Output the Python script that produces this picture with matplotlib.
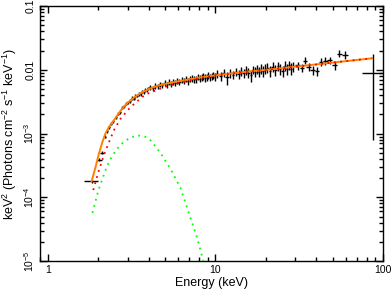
import numpy as np
import matplotlib
matplotlib.use('Agg')
import matplotlib.pyplot as plt
from matplotlib.ticker import FixedLocator, FixedFormatter, NullFormatter, LogLocator

plt.rcParams['font.family'] = ['Liberation Sans', 'DejaVu Sans']
plt.rcParams['mathtext.fontset'] = 'custom'
plt.rcParams['mathtext.rm'] = 'Liberation Sans'
plt.rcParams['mathtext.it'] = 'Liberation Sans:italic'
plt.rcParams['mathtext.bf'] = 'Liberation Sans:bold'

# ---- data points (keV, keV^2 photons cm^-2 s^-1 keV^-1) ----
energy = [1.83, 2.03, 2.10, 2.20, 2.26, 2.33, 2.40, 2.47, 2.55, 2.63, 2.70, 2.78, 2.86, 2.94,
          3.02, 3.10, 3.18, 3.26, 3.34, 3.42, 3.50, 3.58, 3.66, 3.74, 3.82, 3.90, 3.98,
          4.08, 4.23, 4.38, 4.53, 4.68, 4.83, 4.98, 5.13, 5.28, 5.43, 5.58, 5.73, 5.88,
          6.1, 6.3, 6.5, 6.7, 6.9, 7.1, 7.3, 7.5, 7.7, 7.9, 8.1, 8.3, 8.5, 8.7, 8.9, 9.1,
          9.3, 9.5, 9.7, 9.9,
          10.25, 10.75, 11.25, 11.75, 12.25, 12.75, 13.25, 13.75, 14.25, 14.75, 15.25,
          15.75, 16.25, 16.75, 17.25, 17.75, 18.25, 18.75, 19.25, 19.75,
          20.4, 21.2, 22.0, 22.8, 23.6, 24.4, 25.2, 26.0, 26.8, 27.6, 28.4, 29.2,
          31.0, 33.0, 34.4, 36.0, 38.0, 40.4, 42.8, 45.3, 48.0, 51.5, 55.0, 59.5, 87.0]
energy_err = [0.18, 0.07, 0.06, 0.04, 0.03, 0.03, 0.03, 0.03, 0.04, 0.04, 0.04, 0.04, 0.04, 0.04,
              0.04, 0.04, 0.04, 0.04, 0.04, 0.04, 0.04, 0.04, 0.04, 0.04, 0.04, 0.04, 0.04,
              0.075, 0.075, 0.075, 0.075, 0.075, 0.075, 0.075, 0.075, 0.075, 0.075, 0.075, 0.075, 0.075,
              0.1, 0.1, 0.1, 0.1, 0.1, 0.1, 0.1, 0.1, 0.1, 0.1, 0.1, 0.1, 0.1, 0.1, 0.1, 0.1,
              0.1, 0.1, 0.1, 0.1,
              0.25, 0.25, 0.25, 0.25, 0.25, 0.25, 0.25, 0.25, 0.25, 0.25, 0.25,
              0.25, 0.25, 0.25, 0.25, 0.25, 0.25, 0.25, 0.25, 0.25,
              0.4, 0.4, 0.4, 0.4, 0.4, 0.4, 0.4, 0.4, 0.4, 0.4, 0.4, 0.4,
              1.0, 1.0, 1.0, 1.1, 1.1, 1.2, 1.3, 1.4, 1.5, 1.7, 1.9, 2.2, 12.0]
flux = [1.78e-4, 3.9e-4, 5.0e-4, 9.0e-4, 1.10e-3, 1.25e-3, 1.42e-3, 1.55e-3, 1.80e-3, 2.05e-3,
        2.15e-3, 2.55e-3, 2.70e-3, 2.95e-3, 3.10e-3, 3.25e-3, 3.60e-3, 3.55e-3, 3.90e-3, 3.95e-3,
        4.20e-3, 4.20e-3, 4.55e-3, 4.50e-3, 4.80e-3, 4.75e-3, 5.10e-3,
        5.3e-3, 5.1e-3, 5.6e-3, 5.5e-3, 5.9e-3, 5.7e-3, 6.2e-3, 5.9e-3, 6.4e-3, 6.1e-3, 6.5e-3,
        6.2e-3, 6.7e-3,
        6.5e-3, 6.9e-3, 6.8e-3, 7.2e-3, 6.7e-3, 7.3e-3, 7.4e-3, 7.1e-3, 7.2e-3, 7.8e-3, 7.3e-3,
        7.6e-3, 7.9e-3, 7.5e-3, 7.6e-3, 8.3e-3, 7.7e-3, 7.9e-3, 8.3e-3, 7.8e-3,
        8.6e-3, 8.0e-3, 8.9e-3, 7.6e-3, 8.9e-3, 8.4e-3, 9.4e-3, 8.6e-3, 9.6e-3, 8.8e-3, 9.8e-3,
        9.0e-3, 8.3e-3, 10.1e-3, 9.3e-3, 10.3e-3, 9.4e-3, 10.5e-3, 9.6e-3, 10.4e-3,
        10.8e-3, 9.6e-3, 11.2e-3, 10.0e-3, 11.5e-3, 10.2e-3, 9.7e-3, 11.6e-3, 10.4e-3, 11.9e-3,
        10.5e-3, 11.3e-3,
        11.8e-3, 10.8e-3, 14.0e-3, 11.2e-3, 10.0e-3, 9.5e-3, 13.5e-3, 14.0e-3, 14.2e-3, 12.0e-3,
        18.0e-3, 17.2e-3, 9.0e-3]
flux_err = [1.0e-5, 2.5e-5, 3.0e-5, 5.0e-5, 6.0e-5, 7.0e-5, 8.0e-5, 9.0e-5, 1.0e-4, 1.2e-4,
            1.3e-4, 1.5e-4, 1.6e-4, 1.8e-4, 1.9e-4, 2.0e-4, 2.2e-4, 2.2e-4, 2.4e-4, 2.5e-4,
            2.7e-4, 2.7e-4, 2.9e-4, 2.9e-4, 3.1e-4, 3.1e-4, 3.3e-4,
            5.0e-4, 5.0e-4, 5.5e-4, 5.5e-4, 5.9e-4, 5.9e-4, 6.3e-4, 6.3e-4, 6.7e-4, 6.7e-4, 7.0e-4,
            7.0e-4, 7.4e-4,
            7.4e-4, 7.8e-4, 7.8e-4, 8.3e-4, 8.3e-4, 8.5e-4, 8.5e-4, 8.8e-4, 8.8e-4, 9.2e-4, 9.2e-4,
            9.5e-4, 9.5e-4, 9.8e-4, 9.8e-4, 1.0e-3, 1.0e-3, 1.04e-3, 1.04e-3, 1.05e-3,
            1.2e-3, 1.2e-3, 1.26e-3, 1.8e-3, 1.33e-3, 1.33e-3, 1.4e-3, 1.4e-3, 1.47e-3, 1.47e-3, 1.54e-3,
            1.54e-3, 1.8e-3, 1.6e-3, 1.6e-3, 1.68e-3, 1.68e-3, 1.75e-3, 1.75e-3, 1.8e-3,
            1.8e-3, 1.8e-3, 1.9e-3, 1.9e-3, 1.95e-3, 1.95e-3, 1.95e-3, 2.0e-3, 2.0e-3, 2.1e-3,
            2.1e-3, 2.1e-3,
            1.7e-3, 1.7e-3, 1.8e-3, 1.7e-3, 1.6e-3, 1.6e-3, 1.9e-3, 2.0e-3, 2.0e-3, 1.9e-3,
            2.3e-3, 2.3e-3, 0.0]
# last bin: asymmetric, very large error
last_err_lo = 8.2e-3
last_err_hi = 8.8e-3

# ---- model components ----
total_e = [1.83, 1.93, 2.02, 2.12, 2.21, 2.32, 2.48, 2.66, 2.78, 2.98, 3.26, 3.58, 4.01, 4.5,
           5.0, 6.0, 7.0, 8.1, 10, 13, 16.2, 20, 24.5, 30, 40, 50, 60, 70, 86]
total_f = [1.8e-4, 2.97e-4, 4.8e-4, 7.35e-4, 1.0e-3, 1.27e-3, 1.61e-3, 2.1e-3, 2.45e-3, 3.0e-3,
           3.65e-3, 4.3e-3, 5.0e-3, 5.6e-3, 6.0e-3, 6.6e-3, 7.1e-3, 7.6e-3, 8.2e-3, 8.9e-3,
           9.5e-3, 1.0e-2, 1.06e-2, 1.12e-2, 1.22e-2, 1.30e-2, 1.37e-2, 1.43e-2, 1.52e-2]

pl_e = [1.87, 2.02, 2.16, 2.32, 2.48, 2.72, 3.12, 3.66, 3.92, 4.1, 5, 6, 7, 8, 10, 15, 20,
        30, 50, 86]
pl_f = [1.3e-4, 2.64e-4, 4.5e-4, 7.3e-4, 1.12e-3, 1.71e-3, 2.6e-3, 3.75e-3, 4.2e-3, 4.4e-3,
        5.4e-3, 6.2e-3, 6.8e-3, 7.4e-3, 8.1e-3, 9.2e-3, 9.95e-3, 1.11e-2, 1.30e-2, 1.52e-2]

bb_e = [1.85, 2.0, 2.12, 2.21, 2.32, 2.43, 2.6, 2.78, 3.05, 3.42, 3.83, 4.1, 4.7, 5.4, 6.2,
        7.1, 7.8, 8.4, 8.7]
bb_f = [5.7e-5, 1.25e-4, 1.94e-4, 2.64e-4, 3.6e-4, 4.5e-4, 5.8e-4, 7.0e-4, 8.4e-4, 9.4e-4,
        8.9e-4, 7.9e-4, 5.0e-4, 2.8e-4, 1.4e-4, 4.8e-5, 2.3e-5, 1.1e-5, 8e-6]

fig = plt.figure(figsize=(3.92, 2.92), dpi=100)
ax = fig.add_axes([0.102, 0.106, 0.875, 0.873])

yerr_lo = list(flux_err[:-1]) + [last_err_lo]
yerr_hi = list(flux_err[:-1]) + [last_err_hi]
ax.errorbar(energy, flux, xerr=energy_err, yerr=[yerr_lo, yerr_hi], fmt='none',
            ecolor='black', elinewidth=1.0, capsize=0, zorder=2)

ax.plot(total_e, total_f, color='#ff8000', lw=1.4, zorder=3)
ax.plot(pl_e, pl_f, color='#ff0000', lw=1.3, ls=(0, (1, 2.5)), zorder=4)
ax.plot(bb_e, bb_f, color='#00ff00', lw=1.3, ls=(0, (1, 2.5)), zorder=4)

ax.set_xscale('log')
ax.set_yscale('log')
ax.set_xlim(0.9, 100)
ax.set_ylim(1e-5, 0.1)

ax.xaxis.set_major_locator(FixedLocator([1, 10, 100]))
ax.xaxis.set_major_formatter(FixedFormatter(['1', '10', '100']))
ax.xaxis.set_minor_locator(LogLocator(base=10, subs=np.arange(2, 10)))
ax.xaxis.set_minor_formatter(NullFormatter())

ax.yaxis.set_major_locator(FixedLocator([1e-5, 1e-4, 1e-3, 0.01, 0.1]))
ax.yaxis.set_major_formatter(FixedFormatter(['10$^{-5}$', '10$^{-4}$', '10$^{-3}$', '0.01', '0.1']))
ax.yaxis.set_minor_locator(LogLocator(base=10, subs=np.arange(2, 10)))
ax.yaxis.set_minor_formatter(NullFormatter())

ax.tick_params(which='both', direction='in', top=True, right=True, width=1.0, labelsize=7.5)
ax.tick_params(which='major', length=5)
ax.tick_params(which='minor', length=3)
ax.tick_params(axis='x', pad=3)
ax.tick_params(axis='y', pad=3)
for lab in ax.get_yticklabels():
    lab.set_rotation(90)
    lab.set_va('center')

for s in ax.spines.values():
    s.set_linewidth(1.0)

ax.set_xlabel('Energy (keV)', fontsize=9, labelpad=1)
ax.set_ylabel('keV$^2$ (Photons cm$^{-2}$ s$^{-1}$ keV$^{-1}$)', fontsize=9, labelpad=2)

fig.savefig('out.png', dpi=100)
